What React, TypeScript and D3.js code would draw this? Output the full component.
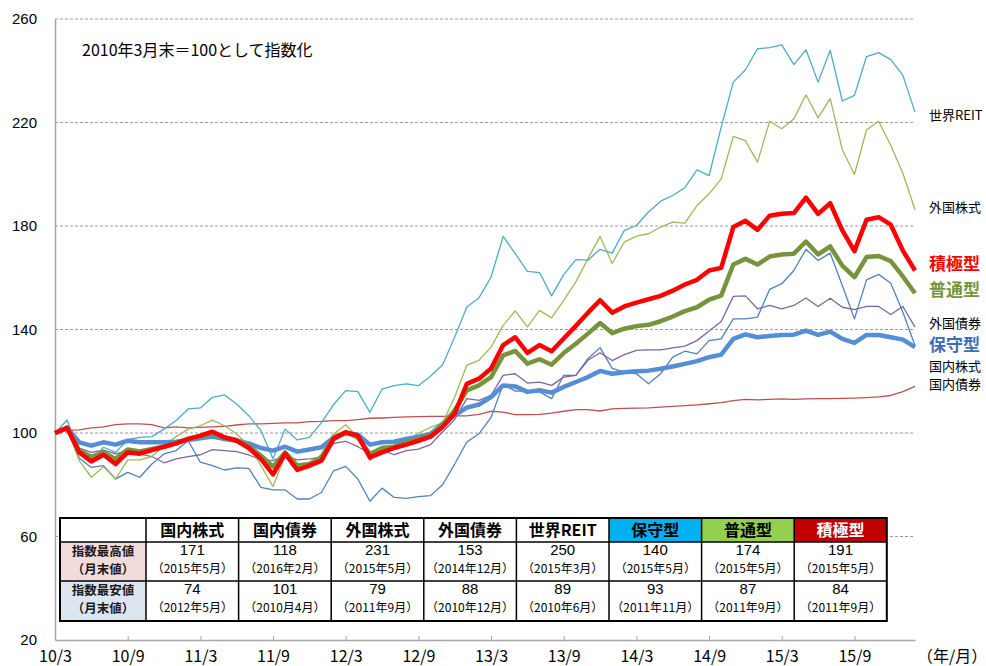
import React, { useEffect, useRef } from "react";
import * as d3 from "d3";

// monthly index, 2010/3 (=100) .. 2016/2
const tickLabels = ["10/3", "10/9", "11/3", "11/9", "12/3", "12/9", "13/3", "13/9", "14/3", "14/9", "15/3", "15/9"];
const tickIndex = [0, 6, 12, 18, 24, 30, 36, 42, 48, 54, 60, 66];
const yTicks = [20, 60, 100, 140, 180, 220, 260];

const reit = [100, 105, 93, 89, 94.5, 92.5, 97.4, 98.3, 98.6, 101.5, 104.8, 109.3, 109.7, 113.8, 114.7, 111.2, 106.7, 101, 90, 101.5, 97.3, 98.3, 104, 111, 116.4, 116, 108, 117, 118.3, 119, 118.3, 121.9, 126.4, 137.1, 148.7, 152.2, 160.3, 176, 169.3, 162.5, 162, 153, 161.2, 167, 166.8, 171, 169.5, 178.3, 180.2, 185.4, 189.6, 191.8, 194.8, 201.7, 199.5, 218.2, 235.6, 240.4, 248.5, 248.9, 250, 242.4, 248.1, 235.6, 247.9, 228.3, 230.5, 245.5, 247, 244.3, 238.2, 224];
const foreignStock = [100, 102, 89.3, 82.9, 87, 82.2, 89.6, 89.6, 90.9, 95.1, 98.6, 101.5, 102.8, 105, 102.8, 99.6, 95.1, 87.4, 79.3, 91.2, 86.1, 86.5, 91.9, 99.6, 103.2, 98.3, 89.3, 94.2, 95.1, 97, 99.9, 102.2, 103.9, 113.9, 126.2, 128.1, 133.2, 141.6, 147.2, 141, 147.4, 144.5, 151.3, 158.4, 167.4, 176, 165.5, 173.8, 176.1, 177, 179.6, 181.5, 181.1, 187.9, 192.4, 198.2, 214.6, 213, 204.7, 220.5, 217.6, 221.4, 230.7, 221.8, 229.2, 209.5, 199.9, 217.2, 220.5, 211.1, 200.4, 186.3];
const foreignBond = [100, 101.5, 94.2, 92.5, 93.4, 91.9, 93.2, 91.9, 90.9, 88.5, 90, 90.9, 91.6, 93.6, 93.2, 92.8, 91.5, 89.6, 89.3, 91.2, 89.6, 90, 90.6, 96, 96.8, 94.7, 92.1, 93.4, 91.6, 93.2, 93.8, 95.5, 100.4, 105.2, 113.3, 112.6, 114.6, 122.3, 122.9, 119.3, 119.7, 118.4, 121.6, 122.3, 128.1, 131, 128, 130.3, 131.9, 132.1, 132.1, 132.9, 133.6, 135.7, 139.4, 143.1, 152.8, 153, 148, 149.3, 148, 149.3, 152.2, 148.9, 152.1, 148.6, 147.7, 148.9, 148.9, 145.8, 148.9, 140.9];
const domesticStock = [100, 101, 90.3, 86.7, 87.4, 82.2, 84.8, 82.9, 88, 91.9, 93.2, 97, 88.7, 87.4, 85.7, 86.5, 86.3, 79, 78, 78, 74.5, 74.5, 77, 85.4, 87.1, 82.2, 73.6, 78.7, 75.1, 74.7, 75.4, 75.8, 80, 88, 96.5, 99.7, 106, 118.8, 116.2, 116.2, 115.9, 113.3, 122.3, 122.3, 128.7, 133, 125, 123.5, 122.9, 119, 122.9, 129.3, 131.6, 130.6, 135.7, 136.4, 144.1, 144.1, 144.8, 155.5, 157.7, 162.8, 171, 166.7, 169.5, 157, 144.1, 159.2, 161.3, 157.9, 146.7, 133.8];
const domesticBond = [100, 101, 101.2, 102, 102.4, 103.2, 103.5, 103.5, 103.2, 102, 102.4, 102, 102.2, 102.4, 102.6, 103.1, 103.5, 103.5, 103.7, 103.9, 103.9, 104.4, 104.5, 104.8, 104.8, 105.2, 105.7, 105.8, 106, 106.2, 106.3, 106.4, 106.4, 106.6, 106.6, 107.2, 108.4, 108.1, 107.1, 107.1, 107.2, 107.7, 108.4, 109, 109, 108.5, 109.3, 109.5, 109.6, 109.7, 110, 110.3, 110.6, 110.9, 111.3, 111.7, 112.5, 113, 112.8, 113, 113.2, 113, 113.2, 113.3, 113.3, 113.4, 113.5, 113.7, 114, 114.5, 116, 118];
const conservative = [100, 102, 96.4, 95.1, 96.4, 95.5, 97, 96.4, 96.4, 96.4, 96.6, 97.3, 98, 98.6, 97.7, 97, 96, 94.2, 93.2, 94.7, 92.8, 93.6, 94.5, 98.3, 99.9, 99.4, 95.5, 96.4, 96.6, 97.7, 98.6, 99.6, 103.6, 106.8, 109.8, 111, 113.9, 118.4, 118, 115.9, 116.5, 115.6, 117.8, 119.7, 121.6, 124, 122.9, 123.5, 123.9, 124.1, 124.8, 125.7, 126.7, 127.8, 129.3, 130.3, 136.4, 138.1, 137, 137.5, 137.9, 138, 139.6, 137.9, 139.2, 136.4, 134.8, 137.9, 137.9, 137, 136.1, 133.2];
const balanced = [100, 102, 93.2, 90.8, 92.5, 90, 93.6, 92.9, 93.8, 94.7, 96, 97.7, 98.7, 99.9, 98.3, 97.3, 95, 91.2, 87, 92.5, 87.4, 88, 90.6, 98.3, 100.3, 98.3, 91.9, 94.2, 94.7, 96.4, 97.7, 99, 103, 108.8, 116.5, 118.4, 121.6, 130, 131.7, 126.8, 128.5, 126.4, 130.9, 134.5, 138.4, 142.5, 138.6, 140.3, 141.3, 141.8, 143.2, 145, 147.1, 148.6, 151.5, 153.1, 165.1, 167.3, 165.1, 168.2, 169, 169.3, 174, 169, 172.1, 164.7, 160.2, 168, 168.4, 166.4, 160.5, 154];
const aggressive = [100, 102, 92.5, 89, 91.6, 88, 92.5, 92, 93.4, 94.7, 96, 97.7, 99, 100.5, 98.3, 97, 94.2, 90, 84, 92, 85.7, 87.4, 89.3, 97.7, 100.3, 99, 90.6, 92.5, 94.2, 95.5, 97, 98.6, 102.3, 107.5, 119, 121, 124.9, 134, 137, 131, 134, 131.6, 136.5, 141.4, 146.5, 151.3, 146.5, 148.9, 150.4, 151.7, 153, 155, 157.4, 159.2, 162.8, 163.8, 179.6, 182, 178.5, 184, 184.7, 185, 191, 184.7, 188.8, 178.3, 170.3, 182.4, 183.4, 180.5, 170.5, 162.8];

// table
const tableHeaders = ["国内株式", "国内債券", "外国株式", "外国債券", "世界REIT", "保守型", "普通型", "積極型"];
const highValues = ["171", "118", "231", "153", "250", "140", "174", "191"];
const highDates = ["（2015年5月）", "（2016年2月）", "（2015年5月）", "（2014年12月）", "（2015年3月）", "（2015年5月）", "（2015年5月）", "（2015年5月）"];
const lowValues = ["74", "101", "79", "88", "89", "93", "87", "84"];
const lowDates = ["（2012年5月）", "（2010月4月）", "（2011年9月）", "（2010年12月）", "（2010年6月）", "（2011年11月）", "（2011年9月）", "（2011年9月）"];

const series = [
  { label: "国内債券", values: domesticBond, color: "#C0504D", w: 1.3, ly: 385, lc: "#000", bold: false, fs: 13 },
  { label: "国内株式", values: domesticStock, color: "#4F81BD", w: 1.3, ly: 367, lc: "#000", bold: false, fs: 13 },
  { label: "外国債券", values: foreignBond, color: "#8064A2", w: 1.3, ly: 324, lc: "#000", bold: false, fs: 13 },
  { label: "外国株式", values: foreignStock, color: "#9BBB59", w: 1.3, ly: 208, lc: "#000", bold: false, fs: 13 },
  { label: "世界REIT", values: reit, color: "#4BACC6", w: 1.3, ly: 116, lc: "#000", bold: false, fs: 13 },
  { label: "保守型", values: conservative, color: "#558ED5", w: 4.5, ly: 346, lc: "#3F6DB3", bold: true, fs: 17 },
  { label: "普通型", values: balanced, color: "#77933C", w: 4.5, ly: 291, lc: "#77933C", bold: true, fs: 17 },
  { label: "積極型", values: aggressive, color: "#FF0000", w: 4.5, ly: 265, lc: "#FF0000", bold: true, fs: 17 },
];

const headerFill = ["#fff", "#fff", "#fff", "#fff", "#fff", "#00B0F0", "#92D050", "#C00000"];
const JP = "'Noto Sans CJK JP', sans-serif";

const App = () => {
  const ref = useRef<SVGSVGElement>(null);
  const width = 986;
  const height = 666;

  useEffect(() => {
    const svg = d3.select(ref.current);
    svg.selectAll("*").remove();

    const x = d3.scaleLinear().domain([0, 71]).range([55, 915]);
    const y = d3.scaleLinear().domain([20, 260]).range([640, 19]);

    // dashed grid
    svg.append("g")
      .selectAll("line")
      .data(yTicks.filter((d) => d > 20))
      .join("line")
      .attr("x1", 55)
      .attr("x2", 915)
      .attr("y1", (d) => y(d))
      .attr("y2", (d) => y(d))
      .attr("stroke", "#9a9a9a")
      .attr("stroke-dasharray", "3,2");

    const yAxis = svg.append("g")
      .attr("transform", "translate(55,0)")
      .call(d3.axisLeft(y).tickValues(yTicks).tickSize(0).tickPadding(18));
    yAxis.select(".domain").attr("stroke", "#a6a6a6").attr("stroke-width", 1.5);
    yAxis.selectAll("text").attr("font-size", 15).attr("font-family", "'Liberation Sans', Arial").attr("fill", "#000");

    const xAxis = svg.append("g")
      .attr("transform", "translate(0,640)")
      .call(
        d3.axisBottom(x)
          .tickValues(tickIndex)
          .tickFormat((d, i) => tickLabels[i])
          .tickSizeInner(-4)
          .tickSizeOuter(0)
          .tickPadding(10)
      );
    xAxis.select(".domain").attr("stroke", "#a6a6a6").attr("stroke-width", 1.5);
    xAxis.selectAll("line").attr("stroke", "#a6a6a6");
    xAxis.selectAll("text").attr("font-size", 16).attr("font-family", JP).attr("fill", "#000").attr("dy", "0.72em");

    svg.append("text")
      .attr("x", 917).attr("y", 662)
      .attr("font-size", 16).attr("font-family", JP)
      .text("（年/月）");

    svg.append("text")
      .attr("x", 82).attr("y", 56)
      .attr("font-size", 16).attr("font-family", JP)
      .text("2010年3月末＝100として指数化");

    const line = d3.line<number>()
      .x((d, i) => x(i))
      .y((d) => y(d));

    svg.append("g")
      .selectAll("path")
      .data(series)
      .join("path")
      .attr("d", (s) => line(s.values))
      .attr("fill", "none")
      .attr("stroke", (s) => s.color)
      .attr("stroke-width", (s) => s.w)
      .attr("stroke-linejoin", "round");

    svg.append("g")
      .selectAll("text")
      .data(series)
      .join("text")
      .attr("x", 929)
      .attr("y", (s) => s.ly)
      .attr("dominant-baseline", "middle")
      .attr("font-family", JP)
      .attr("font-size", (s) => s.fs)
      .attr("font-weight", (s) => (s.bold ? "bold" : "normal"))
      .attr("fill", (s) => s.lc)
      .text((s) => s.label);

    // table
    const tx = 60;
    const c0 = 86;
    const cw = 92.6;
    const rows = [518, 542, 581, 621];
    const t = svg.append("g");
    const colX = (i: number) => tx + c0 + i * cw;

    t.append("rect").attr("x", tx).attr("y", rows[0]).attr("width", c0 + 8 * cw).attr("height", rows[3] - rows[0]).attr("fill", "#fff");
    t.append("rect").attr("x", tx).attr("y", rows[1]).attr("width", c0).attr("height", rows[2] - rows[1]).attr("fill", "#F2DCDB");
    t.append("rect").attr("x", tx).attr("y", rows[2]).attr("width", c0).attr("height", rows[3] - rows[2]).attr("fill", "#DCE6F1");
    t.selectAll("rect.h")
      .data(headerFill)
      .join("rect")
      .attr("x", (d, i) => colX(i))
      .attr("y", rows[0])
      .attr("width", cw)
      .attr("height", rows[1] - rows[0])
      .attr("fill", (d) => d);

    t.selectAll("text.hd")
      .data(tableHeaders)
      .join("text")
      .attr("x", (d, i) => colX(i) + cw / 2)
      .attr("y", 536)
      .attr("text-anchor", "middle")
      .attr("font-family", JP)
      .attr("font-weight", "bold")
      .attr("font-size", 16)
      .attr("fill", (d, i) => (i === 7 ? "#fff" : "#000"))
      .text((d) => d);

    const rowHead = [["指数最高値", "（月末値）"], ["指数最安値", "（月末値）"]];
    rowHead.forEach((r, k) => {
      const base = rows[k + 1];
      t.append("text").attr("x", tx + c0 / 2).attr("y", base + 13.5).attr("text-anchor", "middle")
        .attr("font-family", JP).attr("font-weight", "bold").attr("font-size", 12.5).attr("fill", "#1a1a1a").text(r[0]);
      t.append("text").attr("x", tx + c0 / 2).attr("y", base + 32).attr("text-anchor", "middle")
        .attr("font-family", JP).attr("font-weight", "bold").attr("font-size", 12.5).attr("fill", "#1a1a1a").text(r[1]);
    });

    const bodyRows = [
      { vals: highValues, dates: highDates, top: rows[1] },
      { vals: lowValues, dates: lowDates, top: rows[2] },
    ];
    bodyRows.forEach((r) => {
      t.append("g").selectAll("text").data(r.vals).join("text")
        .attr("x", (d, i) => colX(i) + cw / 2).attr("y", r.top + 13).attr("text-anchor", "middle")
        .attr("font-family", "'Liberation Sans', Arial").attr("font-size", 15).attr("fill", "#000").text((d) => d);
      t.append("g").selectAll("text").data(r.dates).join("text")
        .attr("x", (d, i) => colX(i) + cw / 2).attr("y", r.top + 31).attr("text-anchor", "middle")
        .attr("font-family", JP).attr("font-size", 12).attr("fill", "#000").text((d) => d);
    });

    // borders
    d3.range(1, 9).forEach((i) => {
      t.append("line").attr("x1", colX(i - 1)).attr("x2", colX(i - 1)).attr("y1", rows[0]).attr("y2", rows[3])
        .attr("stroke", "#000").attr("stroke-width", 1.5);
    });
    [rows[1], rows[2]].forEach((ry) => {
      t.append("line").attr("x1", tx).attr("x2", tx + c0 + 8 * cw).attr("y1", ry).attr("y2", ry)
        .attr("stroke", "#000").attr("stroke-width", 1.5);
    });
    t.append("rect").attr("x", tx).attr("y", rows[0]).attr("width", c0 + 8 * cw).attr("height", rows[3] - rows[0])
      .attr("fill", "none").attr("stroke", "#000").attr("stroke-width", 2);
  }, []);

  return (
    <svg
      ref={ref}
      width={width}
      height={height}
      style={{ position: "absolute", left: 0, top: 0, background: "#fff" }}
    />
  );
};

export default App;
